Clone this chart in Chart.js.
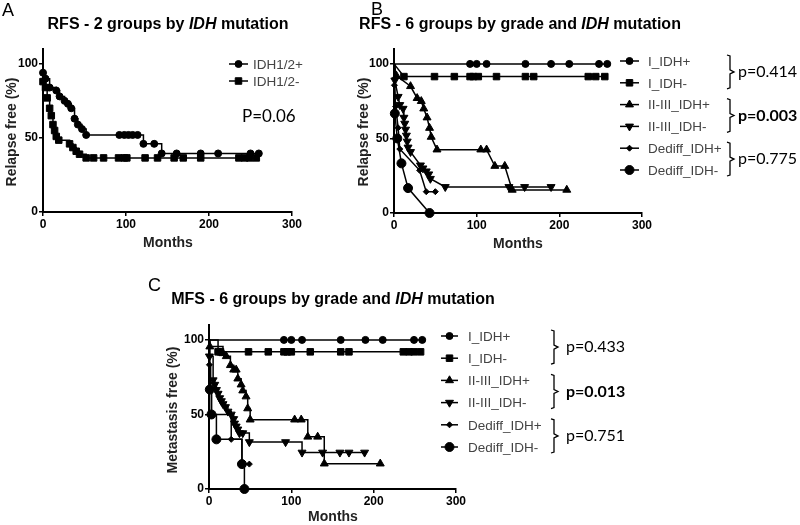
<!DOCTYPE html>
<html>
<head>
<meta charset="utf-8">
<script src="https://cdn.jsdelivr.net/npm/chart.js"></script>
<style>
html, body { margin: 0; padding: 0; background: #fff; }
body { width: 800px; height: 525px; position: relative; overflow: hidden; }
canvas { position: absolute; }
</style>
</head>
<body>
<canvas id="chartA" width="355" height="250" style="left:0px;top:0px"></canvas>
<canvas id="chartB" width="445" height="250" style="left:355px;top:0px"></canvas>
<canvas id="chartC" width="660" height="263" style="left:140px;top:262px"></canvas>
<script>
// tick labels
const monthTicks = [0, 100, 200, 300];
const percentTicks = [0, 50, 100];

// groups
const groupsA = ['IDH1/2+', 'IDH1/2-'];
const groups6 = ['I_IDH+', 'I_IDH-', 'II-III_IDH+', 'II-III_IDH-', 'Dediff_IDH+', 'Dediff_IDH-'];

// A - RFS, 2 groups
const aPosMonths = [0, 3, 8, 16, 20, 26, 30, 34, 38, 42, 47, 52, 92, 98, 103, 108, 114, 121, 134, 143, 161, 190, 211, 250, 260];
const aPosSurv   = [94, 90, 84, 82, 78, 75, 73, 70, 63, 59, 56, 52, 52, 52, 52, 52, 52, 46, 46, 39.5, 39.5, 39.5, 39.5, 39.5, 39.5];
const aNegMonths = [0, 3, 5, 8, 10, 12, 14, 16, 19, 32, 36, 40, 44, 52, 61, 73, 91, 98, 101, 123, 138, 158, 169, 190, 236, 243, 249, 257];
const aNegSurv   = [88, 84, 77, 70, 65, 59, 55, 51, 48.5, 46, 43.5, 41, 39, 36.5, 36.5, 36.5, 36.5, 36.5, 36.5, 36.5, 36.5, 36.5, 36.5, 36.5, 36.5, 36.5, 36.5, 36.5];
const pValuesA = ['P=0.06'];

// B - RFS, 6 groups
const bIPosMonths = [0, 92, 100, 112, 159, 190, 212, 248, 258];
const bIPosSurv   = [100, 100, 100, 100, 100, 100, 100, 100, 100];
const bINegMonths = [0, 12, 49, 73, 92, 96, 102, 124, 159, 169, 235, 244, 255];
const bINegSurv   = [100, 91.5, 91.5, 91.5, 91.5, 91.5, 91.5, 91.5, 91.5, 91.5, 91.5, 91.5, 91.5];
const bIIPosMonths = [0, 3, 20, 28, 33, 36, 40, 43, 45, 52, 105, 112, 122, 134, 143, 209];
const bIIPosSurv   = [100, 92, 85, 77, 75, 70, 64, 57, 51, 42.5, 42.5, 42.5, 31.5, 31.5, 15.5, 15.5];
const bIINegMonths = [0, 1, 5, 7, 11, 12, 13, 14, 15, 16, 17, 20, 32, 35, 39, 42, 44, 62, 139, 158, 190];
const bIINegSurv   = [100, 89, 78, 72.5, 70, 64, 60, 56, 52, 48, 44, 41, 32, 30, 28, 26, 23, 17.5, 17.5, 17.5, 17.5];
const bDPosMonths = [0, 0.5, 2, 5, 7, 31, 39, 50];
const bDPosSurv   = [100, 85.7, 71.4, 57.1, 42.9, 28.6, 14.3, 14.3];
const bDNegMonths = [0, 1, 4, 9, 17, 43];
const bDNegSurv   = [100, 66.7, 50, 33.3, 16.7, 0];
const pValuesB = ['p=0.414', 'p=0.003', 'p=0.775'];

// C - MFS, 6 groups
const cIPosMonths = [0, 91, 100, 113, 160, 190, 211, 249, 259];
const cIPosSurv   = [100, 100, 100, 100, 100, 100, 100, 100, 100];
const cINegMonths = [0, 11, 14, 48, 72, 91, 95, 100, 123, 160, 170, 236, 243, 249, 257];
const cINegSurv   = [100, 92, 92, 92, 92, 92, 92, 92, 92, 92, 92, 92, 92, 92, 92];
const cIIPosMonths = [0, 1, 17, 21, 26, 30, 33, 35, 39, 41, 45, 47, 50, 104, 112, 120, 132, 140, 208];
const cIIPosSurv   = [100, 95.5, 91, 89, 83, 80, 80, 74, 70, 66, 62, 54, 46.5, 46.5, 46.5, 35, 35, 17, 17];
const cIINegMonths = [0, 0.5, 5, 7, 9, 11, 13, 15, 17, 20, 23, 27, 30, 31, 33, 35, 37, 41, 49, 93, 113, 138, 159, 170, 189];
const cIINegSurv   = [100, 89, 73, 70, 66.5, 64, 61, 59, 57, 55, 52, 50, 47, 44, 42, 40, 37.5, 37.5, 31.5, 31.5, 24.5, 24.5, 24.5, 24.5, 24.5];
const cDPosMonths = [0, 0.5, 2, 3, 27, 40, 49];
const cDPosSurv   = [100, 83.3, 66.7, 50, 33.3, 16.7, 16.7];
const cDNegMonths = [0, 1, 3, 9, 40, 43];
const cDNegSurv   = [100, 66.7, 50, 33.3, 16.7, 0];
const pValuesC = ['p=0.433', 'p=0.013', 'p=0.751'];

const FONT = '"Liberation Sans", Arial, sans-serif';

// marker per group
const shapes = {
  circle:   { pointStyle: 'circle', radius: 3.5, rotation: 0 },
  square:   { pointStyle: 'rect', radius: 4.6, rotation: 0 },
  triUp:    { pointStyle: 'triangle', radius: 4.6, rotation: 0 },
  triDown:  { pointStyle: 'triangle', radius: 4.6, rotation: 180 },
  diamond:  { pointStyle: 'rectRot', radius: 3, rotation: 0 },
  bigDot:   { pointStyle: 'circle', radius: 4.5, rotation: 0 }
};
const shapes6 = [shapes.circle, shapes.square, shapes.triUp, shapes.triDown, shapes.diamond, shapes.bigDot];

function toPoints(months, surv) {
    return months.map((m, i) => ({ x: m, y: surv[i] }));
}

const panelDecor = {
    id: 'panelDecor',
    afterDraw(chart) {
        const o = chart.options.plugins.panelDecor;
        const ctx = chart.ctx;
        ctx.save();
        ctx.translate(-o.left, -o.top);   // page coordinates
        ctx.textBaseline = 'middle';
        ctx.fillStyle = '#000';

        // panel letter
        ctx.font = '18px ' + FONT;
        ctx.textAlign = 'left';
        ctx.fillText(o.letter[0], o.letter[1], o.letter[2]);

        // title, IDH in italic
        let w = 0;
        o.title.forEach(part => {
            ctx.font = (part[1] ? 'italic ' : '') + 'bold 16px ' + FONT;
            w += ctx.measureText(part[0]).width;
        });
        let tx = o.titlePos[0] - w / 2;
        o.title.forEach(part => {
            ctx.font = (part[1] ? 'italic ' : '') + 'bold 16px ' + FONT;
            ctx.fillText(part[0], tx, o.titlePos[1]);
            tx += ctx.measureText(part[0]).width;
        });

        // axis titles
        ctx.font = 'bold 14px ' + FONT;
        ctx.fillStyle = '#222';
        ctx.textAlign = 'center';
        ctx.fillText('Months', o.xTitle[0], o.xTitle[1]);
        ctx.save();
        ctx.translate(o.yTitle[0], o.yTitle[1]);
        ctx.rotate(-Math.PI / 2);
        ctx.fillText(o.yTitleText, 0, 0);
        ctx.restore();

        // legend
        const lg = o.legend;
        chart.data.datasets.forEach((ds, i) => {
            const y = lg.y + i * lg.dy;
            ctx.strokeStyle = '#000';
            ctx.lineWidth = 1.5;
            ctx.beginPath();
            ctx.moveTo(lg.x1, y);
            ctx.lineTo(lg.x2, y);
            ctx.stroke();
            ctx.fillStyle = '#000';
            ctx.lineWidth = 1;
            Chart.helpers.drawPoint(ctx, {
                pointStyle: ds.pointStyle, radius: ds.shape.radius,
                rotation: ds.pointRotation, borderWidth: 1
            }, (lg.x1 + lg.x2) / 2, y);
            ctx.font = '13.5px ' + FONT;
            ctx.fillStyle = '#444';
            ctx.textAlign = 'left';
            ctx.fillText(ds.label, lg.tx, y + 1);
        });

        // brackets and p values
        o.pvals.forEach((p, k) => {
            ctx.strokeStyle = '#000';
            ctx.lineWidth = 1.3;
            if (o.bracket) {
                const top = lg.y + 2 * k * lg.dy - 6;
                const bot = lg.y + (2 * k + 1) * lg.dy + 6;
                const mid = (top + bot) / 2;
                const bx = o.bracket.x;
                ctx.beginPath();
                ctx.moveTo(bx, top);
                ctx.lineTo(bx + 3, top + 1);
                ctx.lineTo(bx + 3, mid - 2);
                ctx.lineTo(bx + 7, mid);
                ctx.lineTo(bx + 3, mid + 2);
                ctx.lineTo(bx + 3, bot - 1);
                ctx.lineTo(bx, bot);
                ctx.stroke();
                ctx.font = (p === o.boldP ? 'bold ' : '') + '16px Lato, "Open Sans", sans-serif';
                ctx.fillStyle = '#000';
                ctx.textAlign = 'left';
                ctx.fillText(p, o.bracket.tx, mid);
            } else {
                ctx.font = '17px Lato, "Open Sans", sans-serif';
                ctx.fillStyle = '#000';
                ctx.textAlign = 'left';
                ctx.fillText(p, o.pPos[0], o.pPos[1]);
            }
        });
        ctx.restore();
    }
};

function survivalChart(id, cfg) {
    const datasets = cfg.series.map((s, i) => ({
        label: cfg.names[i],
        data: toPoints(s[0], s[1]),
        shape: s[2],
        showLine: true,
        stepped: cfg.stepped ? 'before' : false,
        borderColor: '#000',
        borderWidth: 1.5,
        backgroundColor: '#000',
        pointStyle: s[2].pointStyle,
        pointRotation: s[2].rotation,
        pointRadius: ctx => (ctx.raw && ctx.raw.x === 0 && ctx.raw.y === 100) ? 0 : s[2].radius,
        pointBackgroundColor: '#000',
        pointBorderColor: '#000',
        pointBorderWidth: 1,
        clip: false
    }));

    const tickFont = { family: FONT, size: 12, weight: 'bold' };

    return new Chart(document.getElementById(id), {
        type: 'scatter',
        data: { datasets: datasets },
        options: {
            responsive: false,
            animation: false,
            events: [],
            layout: { padding: cfg.padding },
            scales: {
                x: {
                    type: 'linear', min: 0, max: 300,
                    afterBuildTicks: sc => { sc.ticks = monthTicks.map(v => ({ value: v })); },
                    afterFit: sc => { sc.height = 20; },
                    ticks: { font: tickFont, color: '#000', padding: 1, autoSkip: false, maxRotation: 0 },
                    grid: { drawOnChartArea: false, tickLength: 4, color: '#000', lineWidth: 1.5 },
                    border: { color: '#000', width: 2 }
                },
                y: {
                    type: 'linear', min: 0, max: 110,
                    afterBuildTicks: sc => { sc.ticks = percentTicks.map(v => ({ value: v })); },
                    afterFit: sc => { sc.width = cfg.yWidth; },
                    ticks: { font: tickFont, color: '#000', padding: 1, autoSkip: false },
                    grid: { drawOnChartArea: false, tickLength: 4, color: '#000', lineWidth: 1.5 },
                    border: { color: '#000', width: 2 }
                }
            },
            plugins: {
                legend: { display: false },
                tooltip: { enabled: false },
                panelDecor: cfg.decor
            }
        },
        plugins: [panelDecor]
    });
}

survivalChart('chartA', {
    names: groupsA,
    stepped: true,
    series: [[aPosMonths, aPosSurv, shapes.circle], [aNegMonths, aNegSurv, shapes.square]],
    padding: { left: 0, top: 49, right: 355 - 292, bottom: 250 - 212 - 20 },
    yWidth: 43,
    decor: {
        left: 0, top: 0,
        letter: ['A', 2, 11],
        title: [['RFS - 2 groups by ', false], ['IDH', true], [' mutation', false]],
        titlePos: [168, 25],
        xTitle: [168, 243],
        yTitle: [12, 132], yTitleText: 'Relapse free (%)',
        legend: { x1: 229, x2: 248, tx: 253, y: 64, dy: 17 },
        pvals: pValuesA, pPos: [242, 117]
    }
});

survivalChart('chartB', {
    names: groups6,
    stepped: false,
    series: [
        [bIPosMonths, bIPosSurv, shapes6[0]], [bINegMonths, bINegSurv, shapes6[1]],
        [bIIPosMonths, bIIPosSurv, shapes6[2]], [bIINegMonths, bIINegSurv, shapes6[3]],
        [bDPosMonths, bDPosSurv, shapes6[4]], [bDNegMonths, bDNegSurv, shapes6[5]]
    ],
    padding: { left: 0, top: 49, right: 445 - 287, bottom: 250 - 213 - 20 },
    yWidth: 39,
    decor: {
        left: 355, top: 0,
        letter: ['B', 371, 10],
        title: [['RFS - 6 groups by grade and ', false], ['IDH', true], [' mutation', false]],
        titlePos: [520, 25],
        xTitle: [518, 244],
        yTitle: [364, 132], yTitleText: 'Relapse free (%)',
        legend: { x1: 620, x2: 639, tx: 648, y: 61, dy: 21.8 },
        pvals: pValuesB, boldP: 'p=0.003',
        bracket: { x: 727, tx: 738 }
    }
});

survivalChart('chartC', {
    names: groups6,
    stepped: true,
    series: [
        [cIPosMonths, cIPosSurv, shapes6[0]], [cINegMonths, cINegSurv, shapes6[1]],
        [cIIPosMonths, cIIPosSurv, shapes6[2]], [cIINegMonths, cIINegSurv, shapes6[3]],
        [cDPosMonths, cDPosSurv, shapes6[4]], [cDNegMonths, cDNegSurv, shapes6[5]]
    ],
    padding: { left: 0, top: 325 - 262, right: 660 - 316, bottom: 263 - 227 - 20 },
    yWidth: 69,
    decor: {
        left: 140, top: 262,
        letter: ['C', 148, 286],
        title: [['MFS - 6 groups by grade and ', false], ['IDH', true], [' mutation', false]],
        titlePos: [333, 300],
        xTitle: [333, 517],
        yTitle: [173, 410], yTitleText: 'Metastasis free (%)',
        legend: { x1: 441, x2: 458, tx: 468, y: 336, dy: 22.2 },
        pvals: pValuesC, boldP: 'p=0.013',
        bracket: { x: 551, tx: 566 }
    }
});
</script>
</body>
</html>
